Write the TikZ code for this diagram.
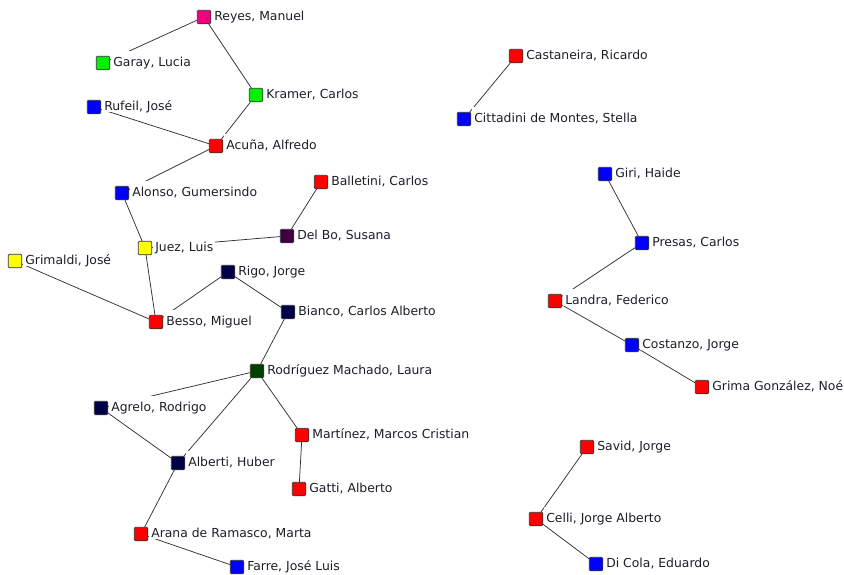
\documentclass[tikz,border=0pt]{standalone}
\usepackage{fontspec}
\setmainfont{DejaVu Sans}
\usetikzlibrary{backgrounds}
\definecolor{cMag}{RGB}{240,0,128}
\definecolor{cGrn}{RGB}{0,240,0}
\definecolor{cBlu}{RGB}{0,0,255}
\definecolor{cRed}{RGB}{255,0,0}
\definecolor{cYel}{RGB}{255,255,0}
\definecolor{cPur}{RGB}{64,0,64}
\definecolor{cNav}{RGB}{0,0,72}
\definecolor{cDkg}{RGB}{0,64,0}
\definecolor{edgegray}{RGB}{50,50,50}
\definecolor{txt}{RGB}{30,30,40}
\tikzset{
  person/.style={rectangle, minimum size=13.5pt, inner sep=0pt, rounded corners=1.2pt,
    draw=black!80, line width=0.7pt, fill=#1},
  lab/.style={fill=white, text=txt, inner xsep=2pt, inner ysep=0.5pt,
    text height=15pt, text depth=1.5pt,
    font=\fontsize{12.4pt}{14pt}\selectfont, anchor=base west},
  tie/.style={draw=edgegray, line width=0.75pt},
}
\newcommand{\person}[5]{%
  \node[person=#4] (#1) at (#2,#3) {};
  \node[lab] (#1-l) at ([xshift=1pt,yshift=-3pt]#1.east) {#5};
}
\begin{document}
\begin{tikzpicture}[x=1pt,y=-1pt]
\useasboundingbox (0,0) rectangle (844,574);
\person{reyes}{204}{17}{cMag}{Reyes, Manuel}
\person{garay}{103}{63}{cGrn}{Garay, Lucia}
\person{kramer}{256}{95}{cGrn}{Kramer, Carlos}
\person{rufeil}{94}{107}{cBlu}{Rufeil, José}
\person{acuna}{216}{146}{cRed}{Acuña, Alfredo}
\person{alonso}{122}{193}{cBlu}{Alonso, Gumersindo}
\person{balletini}{321}{182}{cRed}{Balletini, Carlos}
\person{delbo}{287}{236}{cPur}{Del Bo, Susana}
\person{juez}{145}{248}{cYel}{Juez, Luis}
\person{grimaldi}{15}{261}{cYel}{Grimaldi, José}
\person{rigo}{228}{272}{cNav}{Rigo, Jorge}
\person{bianco}{288}{312}{cNav}{Bianco, Carlos Alberto}
\person{besso}{156}{322}{cRed}{Besso, Miguel}
\person{rodriguez}{257}{371}{cDkg}{Rodríguez Machado, Laura}
\person{agrelo}{101}{408}{cNav}{Agrelo, Rodrigo}
\person{martinez}{302}{435}{cRed}{Martínez, Marcos Cristian}
\person{alberti}{178}{463}{cNav}{Alberti, Huber}
\person{gatti}{299}{489}{cRed}{Gatti, Alberto}
\person{arana}{141}{534}{cRed}{Arana de Ramasco, Marta}
\person{farre}{237}{567}{cBlu}{Farre, José Luis}
\person{castaneira}{516}{56}{cRed}{Castaneira, Ricardo}
\person{cittadini}{464}{119}{cBlu}{Cittadini de Montes, Stella}
\person{giri}{605}{174}{cBlu}{Giri, Haide}
\person{presas}{642}{243}{cBlu}{Presas, Carlos}
\person{landra}{555}{301}{cRed}{Landra, Federico}
\person{costanzo}{632}{345}{cBlu}{Costanzo, Jorge}
\person{grima}{702}{387}{cRed}{Grima González, Noé}
\person{savid}{587}{447}{cRed}{Savid, Jorge}
\person{celli}{536}{519}{cRed}{Celli, Jorge Alberto}
\person{dicola}{596}{564}{cBlu}{Di Cola, Eduardo}
\begin{scope}[on background layer]
  \draw[tie] (reyes) -- (garay);
  \draw[tie] (reyes) -- (kramer);
  \draw[tie] (kramer) -- (acuna);
  \draw[tie] (rufeil) -- (acuna);
  \draw[tie] (acuna) -- (alonso);
  \draw[tie] (alonso) -- (juez);
  \draw[tie] (juez) -- (delbo);
  \draw[tie] (delbo) -- (balletini);
  \draw[tie] (juez) -- (besso);
  \draw[tie] (grimaldi) -- (besso);
  \draw[tie] (besso) -- (rigo);
  \draw[tie] (rigo) -- (bianco);
  \draw[tie] (bianco) -- (rodriguez);
  \draw[tie] (rodriguez) -- (agrelo);
  \draw[tie] (rodriguez) -- (alberti);
  \draw[tie] (rodriguez) -- (martinez);
  \draw[tie] (agrelo) -- (alberti);
  \draw[tie] (martinez) -- (gatti);
  \draw[tie] (alberti) -- (arana);
  \draw[tie] (arana) -- (farre);
  \draw[tie] (castaneira) -- (cittadini);
  \draw[tie] (giri) -- (presas);
  \draw[tie] (presas) -- (landra);
  \draw[tie] (landra) -- (costanzo);
  \draw[tie] (costanzo) -- (grima);
  \draw[tie] (savid) -- (celli);
  \draw[tie] (celli) -- (dicola);
\end{scope}
\end{tikzpicture}
\end{document}
